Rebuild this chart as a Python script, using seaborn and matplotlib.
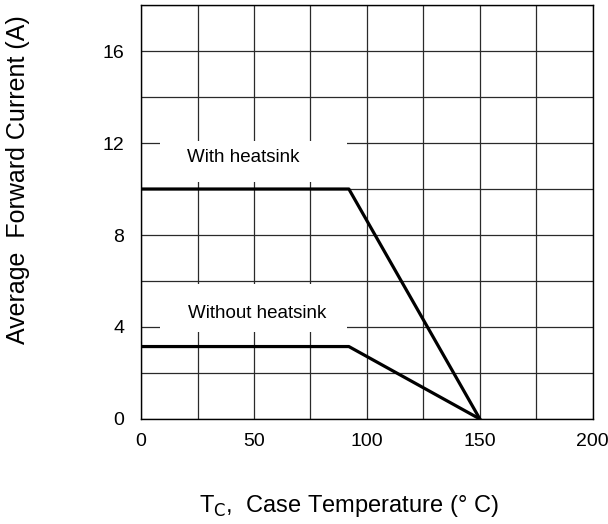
import matplotlib
matplotlib.use('Agg')
import matplotlib.pyplot as plt
import seaborn as sns
import pandas as pd
from matplotlib.patches import Rectangle
from matplotlib.ticker import MultipleLocator

# Данные кривых снижения тока
tc_with = [0, 92, 150]
if_with = [10, 10, 0]
tc_without = [0, 92, 150]
if_without = [3.15, 3.15, 0]

x_ticks = [0, 50, 100, 150, 200]
y_ticks = [0, 4, 8, 12, 16]

sns.set_style('white')
plt.rcParams['font.family'] = ['Liberation Sans', 'DejaVu Sans']
plt.rcParams['text.color'] = 'black'
plt.rcParams['xtick.color'] = 'black'
plt.rcParams['ytick.color'] = 'black'

df = pd.concat([
    pd.DataFrame({'tc': tc_with, 'if': if_with, 'case': 'With heatsink'}),
    pd.DataFrame({'tc': tc_without, 'if': if_without, 'case': 'Without heatsink'}),
])

fig = plt.figure(figsize=(6.08, 5.24), dpi=100)
ax = fig.add_axes([0.232, 0.2004, 0.743, 0.790])

sns.lineplot(data=df, x='tc', y='if', units='case', estimator=None,
             color='black', linewidth=2.3, ax=ax, zorder=3, legend=False)

ax.set_xlim(0, 200)
ax.set_ylim(0, 18)
ax.set_xticks(x_ticks)
ax.set_yticks(y_ticks)
ax.xaxis.set_minor_locator(MultipleLocator(25))
ax.yaxis.set_minor_locator(MultipleLocator(2))
ax.grid(True, which='both', color='#2a2a2a', linewidth=0.9)
ax.set_axisbelow(True)

for lab in ax.get_xticklabels() + ax.get_yticklabels():
    lab.set_fontsize(14)
ax.tick_params(axis='x', length=0, pad=10)
ax.tick_params(axis='y', length=2, pad=10, width=0.9)
ax.tick_params(which='minor', length=0)

for s in ax.spines.values():
    s.set_color('black')
    s.set_linewidth(1.0)

# Белые подложки под подписями
ax.add_patch(Rectangle((8.5, 10.3), 82.5, 1.8, fc='white', ec='none', zorder=1.5))
ax.add_patch(Rectangle((8.5, 3.8), 82.5, 2.08, fc='white', ec='none', zorder=1.5))
ax.text(45.1, 11.35, 'With heatsink', ha='center', va='center', fontsize=13.5, zorder=4)
ax.text(51.3, 4.57, 'Without heatsink', ha='center', va='center', fontsize=13.5, zorder=4)

ax.set_xlabel('')
ax.set_ylabel('')
fig.text(18 / 608, 1 - 180 / 524, 'Average  Forward Current (A)', rotation=90,
         ha='center', va='center', fontsize=18)
fig.text(349 / 608, 1 - 506 / 524, r'T$_{\mathrm{C}}$,  Case Temperature (° C)',
         ha='center', va='center', fontsize=17)

plt.savefig('out.png', dpi=100)
